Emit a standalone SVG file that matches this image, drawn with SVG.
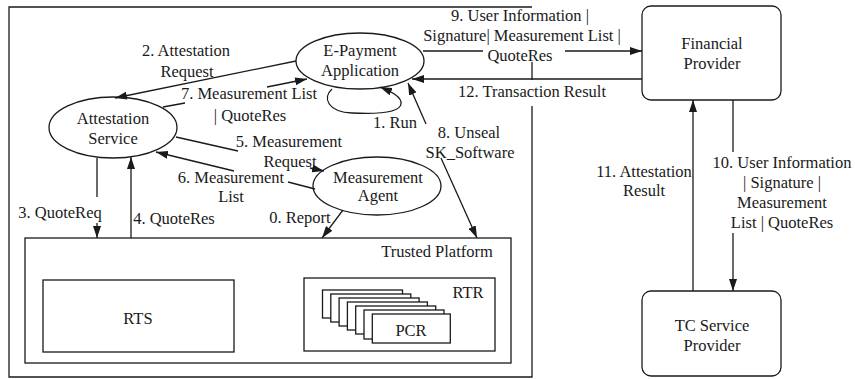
<svg xmlns="http://www.w3.org/2000/svg" width="855" height="379" viewBox="0 0 855 379">
  <style>
    .ln { fill: none; stroke: #1a1a1a; stroke-width: 1.3; }
    .box { fill: #ffffff; stroke: #1a1a1a; stroke-width: 1.3; }
    text { font-family: 'Liberation Serif', Tinos, 'Times New Roman', 'Nimbus Roman', 'DejaVu Serif', serif; font-size: 16.5px; fill: #1a1a1a; text-anchor: middle; }
  </style>
  <defs>
    <marker id="ah" viewBox="0 0 12 8" refX="12" refY="4" markerWidth="12" markerHeight="8" orient="auto" markerUnits="userSpaceOnUse">
      <path d="M0,0 L12,4 L0,8 z" fill="#1a1a1a"/>
    </marker>
  </defs>
  <rect width="855" height="379" fill="#ffffff"/>

  <!-- host platform boundary -->
  <g id="host">
    <path class="ln" d="M532,62 V80 M532,106 V377 H9 V7 H532"/>
  </g>

  <!-- trusted platform with RTS and RTR -->
  <g id="trusted-platform">
    <rect class="box" x="25" y="238" width="486" height="125"/>
    <text x="437" y="256.5" font-family="Liberation Serif, serif">Trusted Platform</text>
  </g>
  <g id="rts">
    <rect class="box" x="43" y="280" width="191" height="72"/>
    <text x="138" y="323.5">RTS</text>
  </g>
  <g id="rtr">
    <rect class="box" x="304" y="278" width="191" height="73"/>
    <text x="468" y="297.5">RTR</text>
  </g>
  <g id="pcr">
    <rect class="box" x="322.5" y="290" width="80" height="28"/>
    <rect class="box" x="330.8" y="294" width="80" height="28"/>
    <rect class="box" x="339.1" y="298" width="80" height="28"/>
    <rect class="box" x="347.4" y="302" width="80" height="28"/>
    <rect class="box" x="355.7" y="306" width="80" height="28"/>
    <rect class="box" x="364" y="310" width="80" height="29"/>
    <rect class="box" x="372.3" y="314" width="78" height="29"/>
    <text x="411" y="335.5">PCR</text>
  </g>

  <!-- software components -->
  <g id="e-payment">
    <ellipse class="box" cx="360" cy="61" rx="64" ry="28"/>
    <text x="360" y="55.5">E-Payment</text>
    <text x="360" y="75.5">Application</text>
  </g>
  <g id="attestation-service">
    <ellipse class="box" cx="113" cy="127.5" rx="64" ry="30.5"/>
    <text x="113" y="123.5">Attestation</text>
    <text x="113" y="143.5">Service</text>
  </g>
  <g id="measurement-agent">
    <ellipse class="box" cx="377" cy="186" rx="64" ry="29"/>
    <text x="378" y="182.5">Measurement</text>
    <text x="378" y="200.5">Agent</text>
  </g>

  <!-- external parties -->
  <g id="financial-provider">
    <rect class="box" x="642" y="6" width="139" height="94" rx="9"/>
    <text x="712" y="48.5">Financial</text>
    <text x="712" y="68.5">Provider</text>
  </g>
  <g id="tc-service-provider">
    <rect class="box" x="642" y="291" width="139" height="85" rx="9"/>
    <text x="712" y="330.5">TC Service</text>
    <text x="712" y="350.5">Provider</text>
  </g>

  <!-- message flows -->
  <g id="connectors">
    <!-- 0 -->
    <path class="ln" d="M343,210 L322,238" marker-end="url(#ah)"/>
    <!-- 1 -->
    <path class="ln" d="M332,89 C322,98 328,112 352,113 C374,114 400,113 401,104 C402,97 392,92 380,87" marker-end="url(#ah)"/>
    <!-- 2 -->
    <path class="ln" d="M296,61 L115,98" marker-end="url(#ah)"/>
    <!-- 3 -->
    <path class="ln" d="M97,158 V197"/>
    <path class="ln" d="M97,223 V238" marker-end="url(#ah)"/>
    <!-- 4 -->
    <path class="ln" d="M131,238 V157" marker-end="url(#ah)"/>
    <!-- 5 -->
    <path class="ln" d="M176,137 L238,151"/>
    <path class="ln" d="M310,168 L324,171" marker-end="url(#ah)"/>
    <!-- 6 -->
    <path class="ln" d="M315,189 L288,182"/>
    <path class="ln" d="M234,171 L156,152" marker-end="url(#ah)"/>
    <!-- 7 -->
    <path class="ln" d="M163,107 L185,103"/>
    <path class="ln" d="M267,87 L307,79" marker-end="url(#ah)"/>
    <!-- 8 -->
    <path class="ln" d="M426,124 L408,83" marker-end="url(#ah)"/>
    <path class="ln" d="M441,158 L477,238" marker-end="url(#ah)"/>
    <!-- 9 -->
    <path class="ln" d="M423,51 H483"/>
    <path class="ln" d="M565,51 H642" marker-end="url(#ah)"/>
    <!-- 10 -->
    <path class="ln" d="M733,100 V152"/>
    <path class="ln" d="M733,233 V291" marker-end="url(#ah)"/>
    <!-- 11 -->
    <path class="ln" d="M693,291 V100" marker-end="url(#ah)"/>
    <!-- 12 -->
    <path class="ln" d="M642,79 H412" marker-end="url(#ah)"/>
  </g>

  <!-- flow labels -->
  <g id="labels">
    <text x="300" y="222.5">0. Report</text>
    <text x="395" y="127.5">1. Run</text>
    <text x="186" y="55.5">2. Attestation</text>
    <text x="187" y="76.5">Request</text>
    <text x="60" y="217.5">3. QuoteReq</text>
    <text x="174" y="223.5">4. QuoteRes</text>
    <text x="289" y="146.5">5. Measurement</text>
    <text x="290" y="166.5">Request</text>
    <text x="231" y="182.5">6. Measurement</text>
    <text x="231" y="201.5">List</text>
    <text x="249" y="98.5">7. Measurement List</text>
    <text x="250" y="120.5">| QuoteRes</text>
    <text x="469" y="137.5">8. Unseal</text>
    <text x="470" y="157.5">SK_Software</text>
    <text x="520" y="20.5">9. User Information |</text>
    <text x="522" y="40.5">Signature| Measurement List |</text>
    <text x="520" y="60.5">QuoteRes</text>
    <text x="782" y="167.5">10. User Information</text>
    <text x="782" y="187.5">| Signature |</text>
    <text x="782" y="207.5">Measurement</text>
    <text x="782" y="227.5">List | QuoteRes</text>
    <text x="644" y="176.5">11. Attestation</text>
    <text x="644" y="195.5">Result</text>
    <text x="532" y="96.5">12. Transaction Result</text>
  </g>
</svg>
